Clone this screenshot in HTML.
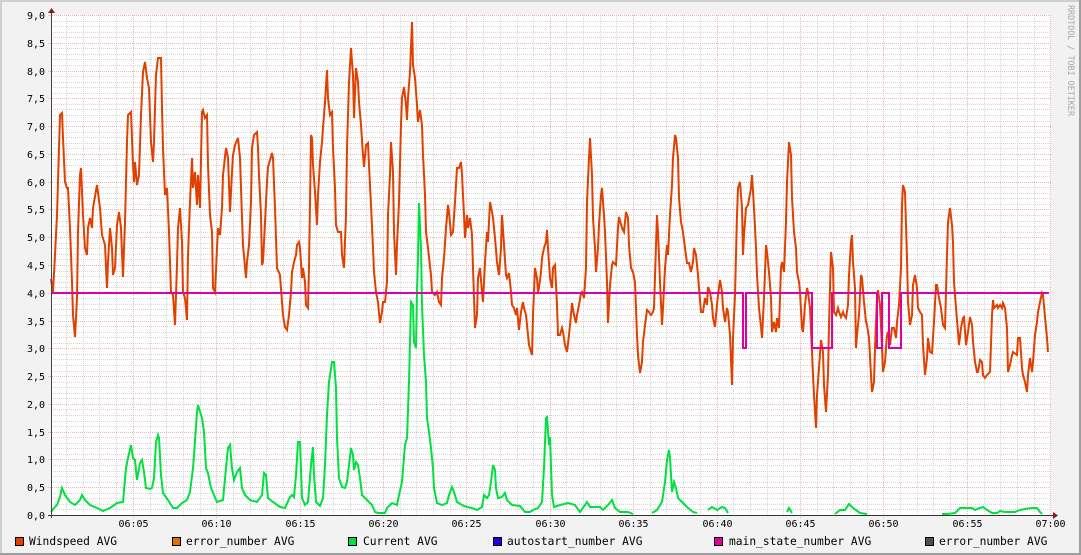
<!DOCTYPE html>
<html>
<head>
<meta charset="utf-8">
<style>
html,body{margin:0;padding:0;background:#f2f2f2;}
svg{display:block;}
text{font-family:"DejaVu Sans Mono","Liberation Mono",monospace;fill:#000;}
</style>
</head>
<body>
<svg width="1081" height="555" viewBox="0 0 1081 555" xmlns="http://www.w3.org/2000/svg">
<rect x="0" y="0" width="1081" height="555" fill="#f2f2f2"/>
<!-- 3D border -->
<rect x="0" y="0" width="1081" height="2" fill="#cfcfcf"/>
<rect x="0" y="0" width="2" height="555" fill="#cfcfcf"/>
<rect x="0" y="553" width="1081" height="2" fill="#9e9e9e"/>
<rect x="1079" y="0" width="2" height="555" fill="#9e9e9e"/>

<!-- canvas -->
<rect x="51" y="15" width="1000" height="500" fill="#ffffff"/>

<!-- minor horizontal grid -->
<path fill="none" stroke="#d6d6d6" stroke-width="1" stroke-dasharray="1,1" d="
M51 509.5H1051M51 504.5H1051M51 498.5H1051M51 493.5H1051
M51 482.5H1051M51 476.5H1051M51 471.5H1051M51 465.5H1051
M51 454.5H1051M51 448.5H1051M51 443.5H1051M51 437.5H1051
M51 426.5H1051M51 421.5H1051M51 415.5H1051M51 409.5H1051
M51 398.5H1051M51 393.5H1051M51 387.5H1051M51 382.5H1051
M51 371.5H1051M51 365.5H1051M51 359.5H1051M51 354.5H1051
M51 343.5H1051M51 337.5H1051M51 332.5H1051M51 326.5H1051
M51 315.5H1051M51 309.5H1051M51 304.5H1051M51 298.5H1051
M51 287.5H1051M51 282.5H1051M51 276.5H1051M51 271.5H1051
M51 259.5H1051M51 254.5H1051M51 248.5H1051M51 243.5H1051
M51 232.5H1051M51 226.5H1051M51 221.5H1051M51 215.5H1051
M51 204.5H1051M51 198.5H1051M51 193.5H1051M51 187.5H1051
M51 176.5H1051M51 171.5H1051M51 165.5H1051M51 159.5H1051
M51 148.5H1051M51 143.5H1051M51 137.5H1051M51 132.5H1051
M51 121.5H1051M51 115.5H1051M51 109.5H1051M51 104.5H1051
M51 93.5H1051M51 87.5H1051M51 82.5H1051M51 76.5H1051
M51 65.5H1051M51 59.5H1051M51 54.5H1051M51 48.5H1051
M51 37.5H1051M51 32.5H1051M51 26.5H1051M51 21.5H1051"/>

<!-- minor vertical grid -->
<path fill="none" stroke="#d6d6d6" stroke-width="1" stroke-dasharray="1,1" d="
M66.5 15V515M83.5 15V515M99.5 15V515M116.5 15V515
M150.5 15V515M166.5 15V515M183.5 15V515M200.5 15V515
M233.5 15V515M250.5 15V515M266.5 15V515M283.5 15V515
M316.5 15V515M333.5 15V515M350.5 15V515M366.5 15V515
M400.5 15V515M416.5 15V515M433.5 15V515M450.5 15V515
M483.5 15V515M500.5 15V515M517.5 15V515M533.5 15V515
M566.5 15V515M583.5 15V515M600.5 15V515M616.5 15V515
M650.5 15V515M666.5 15V515M683.5 15V515M700.5 15V515
M733.5 15V515M750.5 15V515M767.5 15V515M783.5 15V515
M817.5 15V515M833.5 15V515M850.5 15V515M867.5 15V515
M900.5 15V515M917.5 15V515M933.5 15V515M950.5 15V515
M984.5 15V515M1000.5 15V515M1017.5 15V515M1034.5 15V515"/>

<!-- major grid -->
<path fill="none" stroke="#efb4b4" stroke-width="1" stroke-dasharray="1,1" d="
M48 487.5H1051M48 459.5H1051M48 432.5H1051M48 404.5H1051M48 376.5H1051
M48 348.5H1051M48 321.5H1051M48 293.5H1051M48 265.5H1051M48 237.5H1051
M48 209.5H1051M48 182.5H1051M48 154.5H1051M48 126.5H1051M48 98.5H1051
M48 71.5H1051M48 43.5H1051M48 15.5H1051
M133.5 15V518M216.5 15V518M300.5 15V518M383.5 15V518M466.5 15V518
M550.5 15V518M633.5 15V518M717.5 15V518M800.5 15V518M883.5 15V518
M967.5 15V518M1050.5 15V518"/>

<!-- Windspeed -->
<polyline fill="none" stroke="#e04000" stroke-width="2" stroke-linejoin="miter" points="
51,279 53,292 55,255 57,215 58,182 60,115 62,113 63,138 65,182 67,188 68,188 70,228 72,282 73,315 75,337 77,298 78,232 80,175 81,168 83,215 85,248 87,255 88,228 90,218 92,228 93,208 97,185 100,208 102,235 105,245 107,288 108,262 110,228 112,248 113,275 115,268 117,225 119,212 121,228 123,277 125,222 127,142 128,115 131,112 133,165 134,182 135,162 137,185 139,175 141,115 143,72 145,62 147,78 149,88 151,142 153,162 154,142 156,75 158,58 161,58 162,108 163,148 165,195 167,188 169,232 171,292 173,295 175,325 177,265 178,228 180,208 182,242 183,292 185,298 187,320 188,255 190,202 192,158 193,188 195,172 197,205 198,175 200,208 202,112 203,110 205,118 207,115 208,165 210,215 212,232 213,288 215,292 217,248 218,228 220,235 222,208 223,175 226,148 228,158 230,212 232,172 233,155 235,145 238,138 240,158 242,218 243,245 246,278 247,262 249,245 251,202 252,148 254,135 257,132 258,148 259,175 261,215 262,265 263,262 265,222 267,182 268,167 272,153 273,158 275,208 277,268 280,275 282,302 283,315 285,327 287,330 289,315 291,292 292,272 294,262 296,255 297,245 299,242
300,248 302,278 303,268 305,282 306,305 308,308 309,268 310,202 311,135 312,138 313,165 315,192 317,225 318,195 320,162 322,142 323,128 325,102 327,70 328,98 330,115 332,112 333,148 335,188 336,225 338,232 341,232 342,255 344,268 346,215 347,148 349,82 351,48 353,75 354,118 356,68 358,82 359,102 361,125 363,155 364,167 366,145 368,143 369,165 371,205 373,248 374,272 376,292 378,302 380,323 382,312 383,302 385,302 387,282 388,215 390,175 391,142 393,172 394,232 396,275 397,245 399,202 401,125 402,98 404,87 406,105 407,120 408,98 410,72 412,22 413,65 415,78 417,105 418,122 420,110 422,125 423,155 425,195 426,232 428,248 431,275 432,292 435,295 437,292 439,302 441,305 442,278 444,258 446,228 448,205 449,212 451,235 453,232 455,202 457,168 459,168 461,162 462,175 464,215 465,238 467,215 468,228 470,218 472,235 473,268 475,328 477,315 478,278 480,268 482,292 483,302 485,262 487,232 488,242 490,202 492,212 493,218 495,238 497,262 499,275 501,248 502,215 504,245 506,275 507,278 509,273 511,292 512,305 514,308 516,315 517,308 519,330 521,312 523,302 524,308 526,315 528,335 529,345 532,355 533,315 535,268 537,278 538,292 539,288 541,272 542,258 544,248 546,242 547,230 548,248 550,278
552,288 553,268 555,265 557,305 558,335 560,335 562,328 563,332 565,345 567,352 569,335 571,315 572,303 574,315 576,323 577,315 579,305 581,293 582,292 584,298 586,268 587,202 589,158 590,138 592,175 593,218 595,248 596,272 598,248 599,225 601,195 602,188 604,215 605,232 607,282 608,323 610,285 612,265 613,262 616,265 618,228 619,217 622,228 624,232 626,212 628,218 629,245 631,268 633,272 635,282 637,335 638,355 640,373 642,362 643,342 645,325 647,310 649,312 651,315 653,312 654,308 656,245 657,215 658,232 660,282 662,325 663,308 665,268 667,245 668,255 670,215 672,185 673,158 675,135 676,138 678,158 679,198 681,222 683,232 685,248 687,263 689,263 691,272 693,262 694,248 696,255 698,275 699,288 701,312 703,312 705,298 707,305 708,287 710,292 712,305 713,318 715,327 717,305 718,295 720,280 722,292 723,308 725,322 727,308 728,312 730,335 732,385 733,338 735,295 737,215 738,188 740,182 742,208 743,255 744,235 746,208 748,205 751,188 752,175 754,208 756,248 757,275 759,308 761,327 762,338 764,298 766,245 767,252 769,272 771,298 772,332 774,322 776,332 777,318 779,328 781,268 782,262 784,272 786,222 787,182 789,142 791,155 792,198 794,232 796,248 797,272 799,282
800,292 802,328 803,332 805,305 807,288 808,292 810,308 812,352 813,375 814,395 816,428 817,395 818,382 819,368 821,340 823,352 824,385 826,412 828,375 829,325 831,252 833,268 834,312 836,315 838,308 839,312 841,317 843,312 844,315 846,318 848,305 849,275 851,242 852,235 853,262 855,288 856,348 857,335 859,315 861,275 862,278 864,302 866,322 867,325 869,338 871,375 872,392 874,382 875,348 877,298 878,290 880,305 882,348 883,372 885,362 887,335 888,332 890,345 892,328 894,328 896,338 897,322 899,305 901,268 902,205 903,185 905,192 907,258 908,302 910,325 912,315 913,285 915,275 917,288 918,308 920,312 922,315 923,345 925,375 927,358 928,338 930,352 932,353 934,322 936,285 937,285 939,298 941,308 943,325 945,328 947,255 948,222 950,208 952,225 953,242 954,282 956,308 958,332 959,345 961,328 963,318 964,317 966,345 968,332 970,317 972,325 973,342 975,362 977,372 978,372 980,360 982,362 983,375 985,378 987,375 990,372 992,315 993,300 994,308 997,305 998,308 1000,305 1002,308 1003,303 1005,308 1007,328 1008,372 1010,365 1012,355 1013,352 1017,355 1018,338 1020,338 1022,368 1023,375 1025,382 1027,392 1028,375 1030,358 1032,372 1033,362 1035,335 1037,322 1038,312 1040,302 1042,293 1043,295 1045,317 1047,338 1048,352"/>

<!-- Current -->
<g fill="none" stroke="#00e040" stroke-width="2">
<polyline points="51,512 54,508 57,505 60,497 62,488 65,495 70,502 75,505 80,500 82,495 85,500 90,505 97,508 103,511 110,508 117,503 123,502 126,468 128,458 131,445 133,458 135,460 137,480 140,463 142,460 144,472 146,488 150,489 152,488 154,478 156,442 158,435 159,438 161,475 163,493 168,500 173,508 177,508 182,503 187,500 190,492 193,468 194,455 197,412 198,405 202,418 204,432 206,468 208,473 211,488 214,495 217,502 223,500 226,468 228,448 230,445 232,468 234,480 237,472 240,468 242,488 245,495 250,500 257,502 262,495 264,473 266,475 268,498 273,502 280,507 285,508 290,497 292,495 294,497 296,475 298,442 300,442 302,498 305,505 308,502 311,465 313,447 314,475 316,502 320,506 323,498 325,465 327,415 329,382 332,362 334,362 336,388 337,438 339,478 342,487 345,488 347,482 349,465 351,448 353,455 354,470 356,462 358,465 360,478 362,495 367,500 372,505 375,512 378,513 385,513 387,508 392,503 397,505 399,495 402,482 405,445 407,438 409,382 411,302 413,305 414,342 416,348 417,292 418,258 419,203 421,248 422,305 424,355 426,382 427,418 429,432 431,448 433,468 434,488 437,503 442,505 447,503 449,495 452,487 454,492 457,502 462,505 467,507 472,508 477,510 482,507 484,495 487,498 489,495 491,482 493,465 495,470 496,488 498,498 502,497 505,493 507,500 512,505 520,506 525,512 530,512 533,510 538,508 542,502 544,468 546,418 547,417 549,445 550,437 552,495 554,507 560,505 568,503 575,505 580,512 585,505 587,502 590,507 595,507 600,507 603,510 608,505 612,500 615,508 620,512 628,512 633,514"/>
<polyline points="652,513 657,510 662,502 665,482 667,460 669,450 670,458 672,492 674,482 676,488 678,498 682,502 687,507 693,512 697,513"/>
<polyline points="708,510 712,507 717,510 722,507 725,508 728,513"/>
<polyline points="787,512 789,508 792,513"/>
<polyline points="835,514 840,510 845,510 849,504 853,508 860,513 867,514"/>
<polyline points="942,514 947,514 955,513 960,508 967,508 972,508 975,510 980,508 983,507 987,510 992,513 997,513 1000,511 1005,512 1010,512 1015,512 1020,510 1025,509 1032,508 1037,508 1040,512 1042,514"/>
</g>

<!-- main_state_number -->
<polyline fill="none" stroke="#e000a0" stroke-width="2" points="51,293 743,293 743,348 746,348 746,293 812,293 812,348 832,348 832,293 877,293 877,348 882,348 882,293 889,293 889,348 901,348 901,293 1049,293"/>

<!-- axes -->
<line x1="51.5" y1="12" x2="51.5" y2="518" stroke="#444" stroke-width="1"/>
<line x1="48" y1="515.5" x2="1054" y2="515.5" stroke="#333" stroke-width="1"/>
<polygon points="48,13 55,13 51.5,8" fill="#801f1f"/>
<polygon points="1053,512 1053,519 1058,515.5" fill="#801f1f"/>

<!-- Y labels -->
<g font-size="10" text-anchor="end">
<text x="45" y="519">0,0</text>
<text x="45" y="491">0,5</text>
<text x="45" y="463">1,0</text>
<text x="45" y="436">1,5</text>
<text x="45" y="408">2,0</text>
<text x="45" y="380">2,5</text>
<text x="45" y="352">3,0</text>
<text x="45" y="325">3,5</text>
<text x="45" y="297">4,0</text>
<text x="45" y="269">4,5</text>
<text x="45" y="241">5,0</text>
<text x="45" y="213">5,5</text>
<text x="45" y="186">6,0</text>
<text x="45" y="158">6,5</text>
<text x="45" y="130">7,0</text>
<text x="45" y="102">7,5</text>
<text x="45" y="75">8,0</text>
<text x="45" y="47">8,5</text>
<text x="45" y="19">9,0</text>
</g>

<!-- X labels -->
<g font-size="10" text-anchor="middle">
<text x="133.5" y="527">06:05</text>
<text x="216.5" y="527">06:10</text>
<text x="300.5" y="527">06:15</text>
<text x="383.5" y="527">06:20</text>
<text x="466.5" y="527">06:25</text>
<text x="550.5" y="527">06:30</text>
<text x="633.5" y="527">06:35</text>
<text x="717.5" y="527">06:40</text>
<text x="800.5" y="527">06:45</text>
<text x="883.5" y="527">06:50</text>
<text x="967.5" y="527">06:55</text>
<text x="1050.5" y="527">07:00</text>
</g>

<!-- watermark -->
<text transform="translate(1068,5) rotate(90)" font-size="8.5" fill="#a8a8a8" style="fill:#a8a8a8" textLength="111" lengthAdjust="spacingAndGlyphs">RRDTOOL / TOBI OETIKER</text>

<!-- legend -->
<g stroke="#000" stroke-width="1">
<rect x="15.5" y="537.5" width="8" height="8" fill="#e04000"/>
<rect x="172.5" y="537.5" width="8" height="8" fill="#e07000"/>
<rect x="348.5" y="537.5" width="8" height="8" fill="#00e040"/>
<rect x="493.5" y="537.5" width="8" height="8" fill="#2000e0"/>
<rect x="714.5" y="537.5" width="8" height="8" fill="#e000a0"/>
<rect x="925.5" y="537.5" width="8" height="8" fill="#505050"/>
</g>
<g font-size="11.25">
<text x="29" y="545">Windspeed AVG</text>
<text x="186" y="545">error_number AVG</text>
<text x="363" y="545">Current AVG</text>
<text x="507" y="545">autostart_number AVG</text>
<text x="729" y="545">main_state_number AVG</text>
<text x="939" y="545">error_number AVG</text>
</g>
</svg>
</body>
</html>
